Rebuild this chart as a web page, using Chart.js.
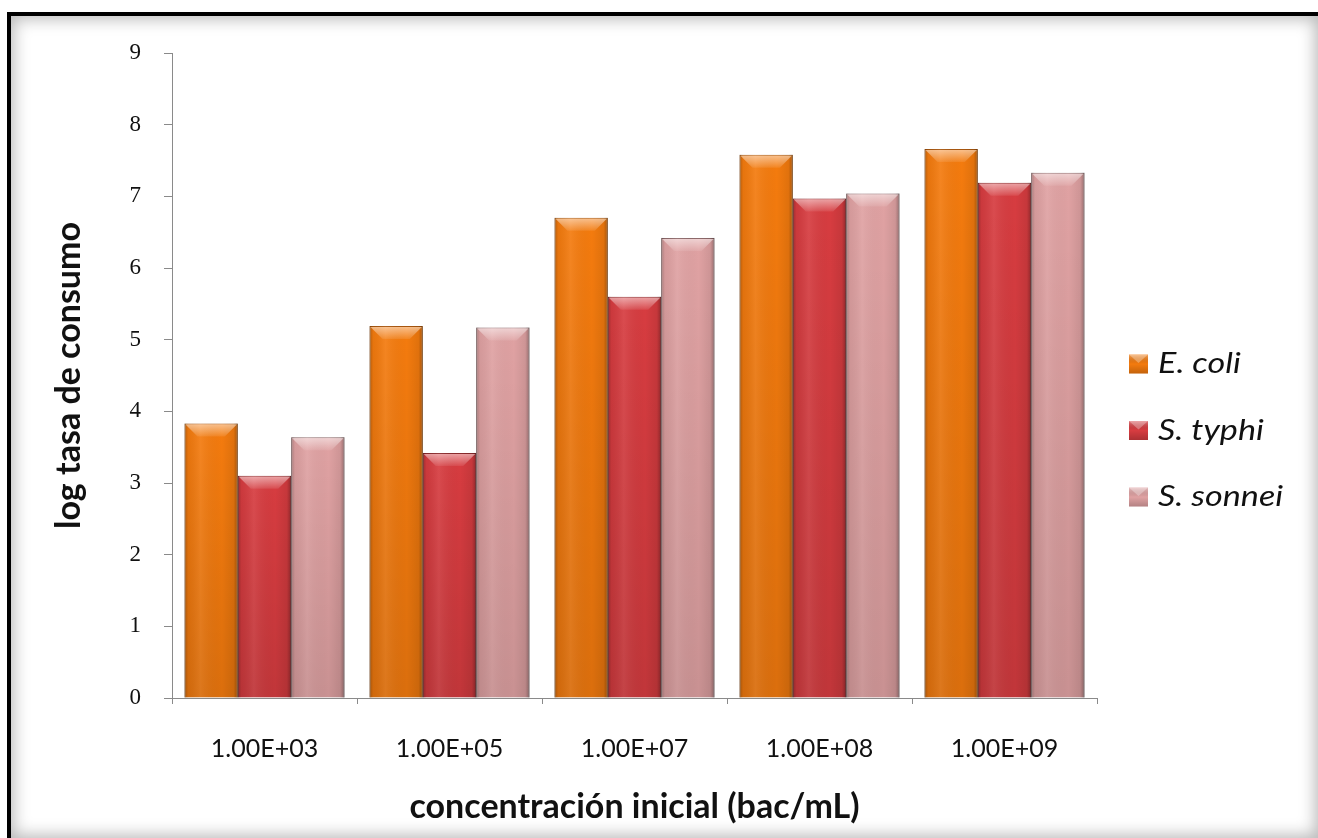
<!DOCTYPE html>
<html>
<head>
<meta charset="utf-8">
<script src="https://cdn.jsdelivr.net/npm/chart.js@4/dist/chart.umd.min.js"></script>
<style>
  html, body { margin: 0; padding: 0; background: #fff; }
  #wrap { position: relative; width: 1318px; height: 838px; overflow: hidden; }
  #c { position: absolute; left: 0; top: 0; }
  #frame {
    position: absolute; left: 7px; top: 12px; right: 0; bottom: 0;
    border-top: 4px solid #000; border-left: 4px solid #000;
    box-shadow: inset 0 0 16px 3px rgba(0,0,0,0.28);
    pointer-events: none;
  }
</style>
</head>
<body>
<div id="wrap">
  <canvas id="c" width="1318" height="838"></canvas>
  <div id="frame"></div>
</div>
<script>
// Initial concentration categories (bac/mL)
const categories = ['1.00E+03', '1.00E+05', '1.00E+07', '1.00E+08', '1.00E+09'];

// log consumption rate per strain
const eColi    = [3.83, 5.19, 6.70, 7.58, 7.66];
const sTyphi   = [3.10, 3.42, 5.60, 6.97, 7.19];
const sSonnei  = [3.64, 5.17, 6.42, 7.04, 7.33];

const seriesNames = ['E. coli', 'S. typhi', 'S. sonnei'];
const yTicks = [0, 1, 2, 3, 4, 5, 6, 7, 8, 9];

const fills   = ['#F47B0E', '#D73C40', '#E0A2A3'];
const borders = ['#A8560E', '#8A2A2C', '#8E6A6B'];

// Glossy bevel shading drawn over each bar the library has laid out
const bevelPlugin = {
  id: 'bevel',
  afterDatasetsDraw(chart) {
    const ctx = chart.ctx;
    chart.data.datasets.forEach((ds, i) => {
      const meta = chart.getDatasetMeta(i);
      meta.data.forEach(bar => {
        const p = bar.getProps(['x', 'y', 'base', 'width'], true);
        const l = p.x - p.width / 2, r = p.x + p.width / 2, t = p.y, b = p.base;
        ctx.save();
        let g = ctx.createLinearGradient(l, 0, r, 0);
        g.addColorStop(0, 'rgba(0,0,0,0.25)');
        g.addColorStop(0.07, 'rgba(0,0,0,0.05)');
        g.addColorStop(0.3, 'rgba(255,255,255,0.08)');
        g.addColorStop(0.7, 'rgba(0,0,0,0)');
        g.addColorStop(0.92, 'rgba(0,0,0,0.08)');
        g.addColorStop(1, 'rgba(0,0,0,0.32)');
        ctx.fillStyle = g;
        ctx.fillRect(l, t, r - l, b - t);
        g = ctx.createLinearGradient(0, t, 0, b);
        g.addColorStop(0, 'rgba(0,0,0,0)');
        g.addColorStop(1, 'rgba(0,0,0,0.1)');
        ctx.fillStyle = g;
        ctx.fillRect(l, t, r - l, b - t);
        const h = 13;
        ctx.beginPath();
        ctx.moveTo(l + 1, t + 1);
        ctx.lineTo(r - 1, t + 1);
        ctx.lineTo(r - h, t + h);
        ctx.lineTo(l + h, t + h);
        ctx.closePath();
        g = ctx.createLinearGradient(0, t, 0, t + h);
        g.addColorStop(0, 'rgba(255,255,255,0.55)');
        g.addColorStop(1, 'rgba(255,255,255,0.08)');
        ctx.fillStyle = g;
        ctx.fill();
        ctx.restore();
      });
    });
  }
};

// Legend at the right, one row per strain
const sideLegend = {
  id: 'sideLegend',
  afterDraw(chart) {
    const ctx = chart.ctx;
    const area = chart.chartArea;
    const x0 = area.right + 32;
    const midY = (area.top + area.bottom) / 2 + 55;
    const gap = 66.5;
    const n = chart.data.datasets.length;
    ctx.save();
    chart.data.datasets.forEach((ds, i) => {
      const cy = midY + (i - (n - 1) / 2) * gap;
      const s = 19;
      const bx = x0, by = cy - s / 2;
      ctx.fillStyle = ds.backgroundColor;
      ctx.fillRect(bx, by, s, s);
      let g = ctx.createLinearGradient(0, by, 0, by + s);
      g.addColorStop(0, 'rgba(255,255,255,0.35)');
      g.addColorStop(0.5, 'rgba(0,0,0,0)');
      g.addColorStop(1, 'rgba(0,0,0,0.2)');
      ctx.fillStyle = g;
      ctx.fillRect(bx, by, s, s);
      ctx.beginPath();
      ctx.moveTo(bx, by); ctx.lineTo(bx + s, by); ctx.lineTo(bx + s / 2, by + s * 0.45);
      ctx.closePath();
      ctx.fillStyle = 'rgba(255,255,255,0.3)';
      ctx.fill();
      // slightly widened italic label
      ctx.save();
      ctx.translate(bx + 29, cy);
      ctx.scale(1.22, 1);
      ctx.fillStyle = '#111';
      ctx.font = 'italic 28px Lato';
      ctx.textBaseline = 'middle';
      ctx.textAlign = 'left';
      ctx.fillText(ds.label, 0, 0);
      ctx.restore();
    });
    ctx.restore();
  }
};

new Chart(document.getElementById('c'), {
  type: 'bar',
  data: {
    labels: categories,
    datasets: [eColi, sTyphi, sSonnei].map((vals, i) => ({
      label: seriesNames[i],
      data: vals,
      backgroundColor: fills[i],
      borderColor: borders[i],
      borderWidth: 1,
      barPercentage: 1.0,
      categoryPercentage: 0.865
    }))
  },
  options: {
    responsive: false,
    animation: false,
    layout: { padding: { left: 12, top: 53, right: 221, bottom: 0 } },
    plugins: {
      legend: { display: false },
      tooltip: { enabled: false }
    },
    scales: {
      x: {
        afterFit(scale) { scale.height = 838 - 698; },
        grid: { offset: true, drawOnChartArea: false, drawTicks: true, tickLength: 6, color: '#8a8a8a' },
        border: { display: true, color: '#8a8a8a', width: 1 },
        ticks: { color: '#111', font: { family: 'Lato', size: 25 }, padding: 30 },
        title: {
          display: true,
          text: 'concentración inicial (bac/mL)',
          color: '#111',
          font: { family: 'Lato', size: 34, weight: 'bold' },
          padding: { top: 0, bottom: 11 }
        }
      },
      y: {
        min: 0,
        max: 9,
        afterFit(scale) { scale.width = 172 - 12; },
        afterBuildTicks(scale) { scale.ticks = yTicks.map(v => ({ value: v })); },
        grid: { drawOnChartArea: false, drawTicks: true, tickLength: 8, color: '#8a8a8a' },
        border: { display: true, color: '#8a8a8a', width: 1 },
        ticks: { color: '#111', font: { family: 'Liberation Serif', size: 23 }, padding: 23 },
        title: {
          display: true,
          text: 'log tasa de consumo',
          color: '#111',
          font: { family: 'Lato', size: 34, weight: 'bold' },
          padding: { top: 37, bottom: 0 }
        }
      }
    }
  },
  plugins: [bevelPlugin, sideLegend]
});
</script>
</body>
</html>
